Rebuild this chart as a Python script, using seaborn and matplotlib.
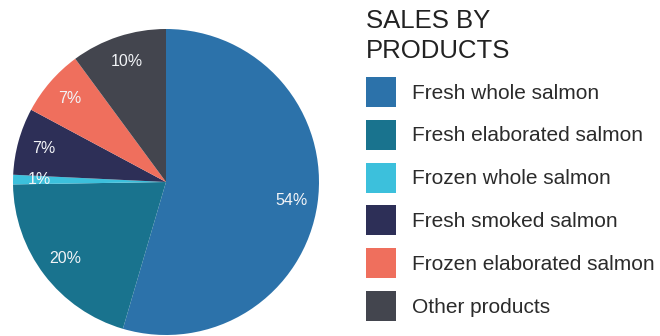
import matplotlib
matplotlib.use("Agg")
import matplotlib.pyplot as plt
import seaborn as sns

# Sales share by product line (%)
products = [
    "Fresh whole salmon",
    "Fresh elaborated salmon",
    "Frozen whole salmon",
    "Fresh smoked salmon",
    "Frozen elaborated salmon",
    "Other products",
]
shares = [54, 20, 1, 7, 7, 10]
share_labels = [f"{v}%" for v in shares]
colors = ["#2c72aa", "#19738e", "#3cc0dc", "#2d2f57", "#ef6f5d", "#43454e"]

sns.set_theme(style="white")
plt.rcParams["font.family"] = ["Liberation Sans", "DejaVu Sans"]

W, H, DPI = 660, 336, 100
fig = plt.figure(figsize=(W / DPI, H / DPI), dpi=DPI)
fig.patch.set_facecolor("white")
ax = fig.add_axes([0, 0, 1, 1])

palette = sns.color_palette(colors)
wedges, texts = ax.pie(
    shares,
    labels=share_labels,
    colors=palette,
    startangle=90,
    counterclock=False,
    labeldistance=0.83,
    wedgeprops=dict(linewidth=0),
    textprops=dict(color="#f2f4f7", fontsize=11.5, ha="center", va="center"),
)

# Place the pie: centre at (166, 182) px from top-left, radius 153 px
cx, cy, r = 166, 182, 153
ax.set_xlim(-cx / r, (W - cx) / r)
ax.set_ylim(-(H - cy) / r, cy / r)
ax.set_aspect("equal", adjustable="box")
ax.axis("off")

# Title
fig.text(366 / W, 1 - 28 / H, "SALES BY", fontsize=18.5, color="#222222",
         ha="left", va="baseline")
fig.text(366 / W, 1 - 58 / H, "PRODUCTS", fontsize=18.5, color="#222222",
         ha="left", va="baseline")

# Legend with square swatches
fs = 15
fs_px = fs * DPI / 72
sq = 30
hh = (sq / fs_px - 0.245) / 0.65
leg = ax.legend(
    wedges,
    products,
    loc="upper left",
    bbox_to_anchor=(366 / W, 1 - 77 / H),
    bbox_transform=fig.transFigure,
    frameon=False,
    fontsize=fs,
    handlelength=sq / fs_px,
    handleheight=hh,
    handletextpad=16 / fs_px,
    labelspacing=12.8 / fs_px,
    borderpad=0,
    borderaxespad=0,
)
for t in leg.get_texts():
    t.set_color("#2b2b2b")

fig.savefig("out.png", dpi=DPI)
